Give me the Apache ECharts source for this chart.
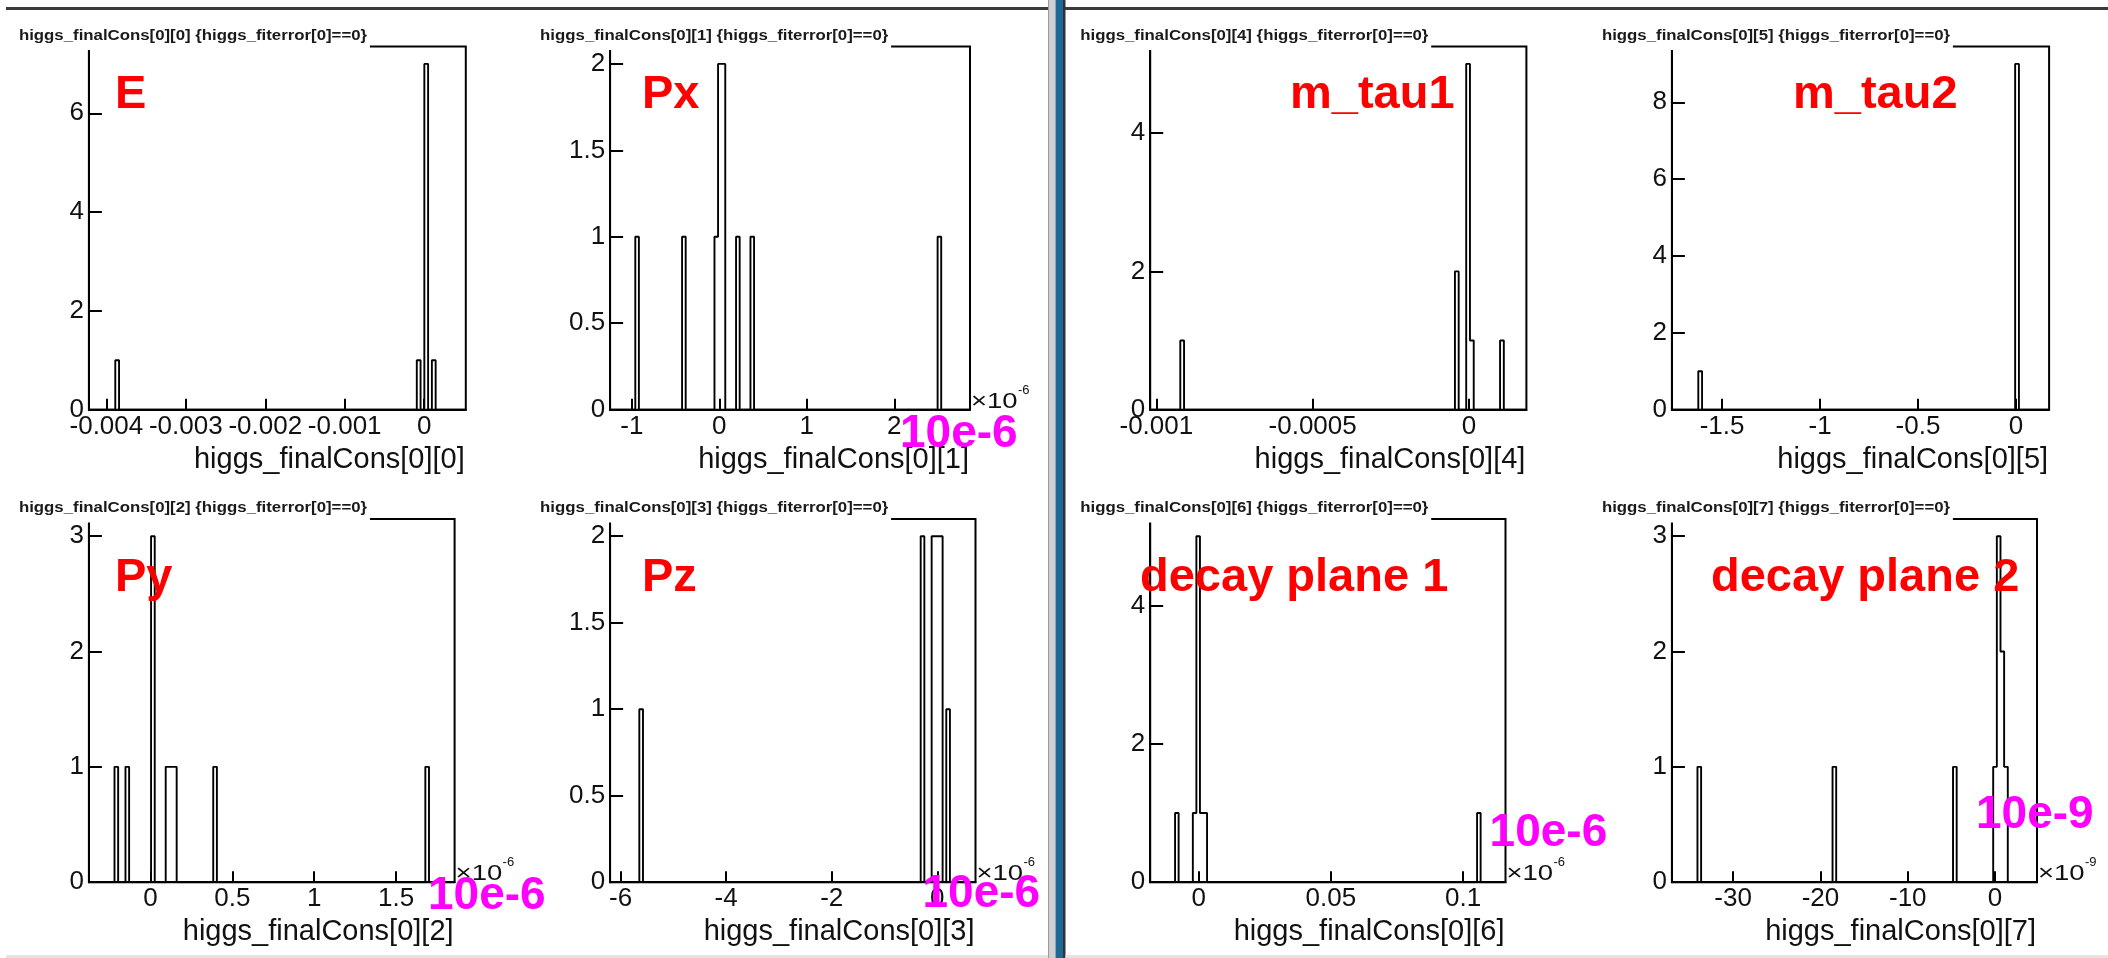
<!DOCTYPE html>
<html><head><meta charset="utf-8">
<script src="https://cdn.jsdelivr.net/npm/echarts@6/dist/echarts.min.js"></script>
<style>html,body{margin:0;padding:0;background:#fff;overflow:hidden}#c{width:2108px;height:958px}</style>
</head><body><div id="c"></div>
<script>
// ---------------- DATA ----------------
const NBINS = 100;
const panelLabels = ['E', 'Px', 'm_tau1', 'm_tau2', 'Py', 'Pz', 'decay plane 1', 'decay plane 2'];
const varNames = ['higgs_finalCons[0][0]', 'higgs_finalCons[0][1]', 'higgs_finalCons[0][4]', 'higgs_finalCons[0][5]',
                  'higgs_finalCons[0][2]', 'higgs_finalCons[0][3]', 'higgs_finalCons[0][6]', 'higgs_finalCons[0][7]'];
const cutText = '{higgs_fiterror[0]==0}';
const axisExponents = [null, '-6', null, null, '-6', '-6', '-6', '-9'];
const scaleNotes = [null, '10e-6', null, null, '10e-6', '10e-6', '10e-6', '10e-9'];

const yMaxes = [7.35, 2.1, 5.25, 9.45, 3.15, 2.1, 5.25, 3.15];
const yTickLabels = [[0, 2, 4, 6], [0, 0.5, 1, 1.5, 2], [0, 2, 4], [0, 2, 4, 6, 8],
                     [0, 1, 2, 3], [0, 0.5, 1, 1.5, 2], [0, 2, 4], [0, 1, 2, 3]];
const xTickLabels = [[-0.004, -0.003, -0.002, -0.001, 0], [-1, 0, 1, 2], [-0.001, -0.0005, 0], [-1.5, -1, -0.5, 0],
                     [0, 0.5, 1, 1.5], [-6, -4, -2, 0], [0, 0.05, 0.1], [-30, -20, -10, 0]];

// E
const xRange_E = [-0.00422, 0.000524];
const binX_E = [-0.0038642, -0.000069, 0.0000259, 0.0001208];
const binN_E = [1, 1, 7, 1];
// Px (x 1e-6)
const xRange_Px = [-1.248, 2.865];
const binX_Px = [-0.9395, -0.4048, -0.0347, 0.0065, 0.0476, 0.2121, 0.3766, 2.5154];
const binN_Px = [1, 1, 1, 2, 2, 1, 1, 1];
// m_tau1
const xRange_mtau1 = [-0.0010196, 0.0001836];
const binX_mtau1 = [-0.000917, -0.000039, -0.0000029, 0.0000091, 0.0001054];
const binN_mtau1 = [1, 2, 5, 1, 1];
// m_tau2
const xRange_mtau2 = [-1.756, 0.169];
const binX_mtau2 = [-1.6116, 0.0054];
const binN_mtau2 = [1, 9];
// Py (x 1e-6)
const xRange_Py = [-0.3755, 1.857];
const binX_Py = [-0.2081, -0.1411, 0.0152, 0.1045, 0.1268, 0.1491, 0.3947, 1.6896];
const binN_Py = [1, 1, 3, 1, 1, 1, 1, 1];
// Pz (x 1e-6)
const xRange_Pz = [-6.199, 0.723];
const binX_Pz = [-5.6106, -0.2807, -0.0730, -0.0038, 0.0654, 0.2039];
const binN_Pz = [1, 2, 2, 2, 2, 1];
// decay plane 1 (x 1e-6)
const xRange_dp1 = [-0.0183, 0.116];
const binX_dp1 = [-0.00823, -0.00151, -0.00017, 0.00117, 0.00252, 0.10593];
const binN_dp1 = [1, 1, 5, 1, 1, 1];
// decay plane 2 (x 1e-9)
const xRange_dp2 = [-37.01, 4.80];
const binX_dp2 = [-33.874, -18.405, -4.607, -0.008, 0.410, 0.828, 1.246];
const binN_dp2 = [1, 1, 1, 1, 3, 2, 1];

// ---------------- LAYOUT ----------------
const frames = [ // left, top, right, bottom
  [88.9, 46.6, 465.8, 409.7], [610.1, 46.6, 970.0, 409.7], [1150.2, 46.6, 1526.4, 409.7], [1671.9, 46.6, 2049.1, 409.7],
  [88.9, 518.9, 454.6, 882.2], [610.1, 518.9, 975.5, 882.2], [1150.2, 518.9, 1505.5, 882.2], [1671.9, 518.9, 2037.0, 882.2]
];
const redPos = [[115, 94.7], [642, 94.7], [1290, 94.7], [1793, 94.7], [115, 578], [642, 578], [1140, 578], [1711, 578]];
const magentaPos = [null, [900, 434.7], null, null, [428, 896], [922.5, 894.5], [1489.6, 833.5], [1976, 815]];

const hists = [
  [xRange_E, binX_E, binN_E], [xRange_Px, binX_Px, binN_Px], [xRange_mtau1, binX_mtau1, binN_mtau1], [xRange_mtau2, binX_mtau2, binN_mtau2],
  [xRange_Py, binX_Py, binN_Py], [xRange_Pz, binX_Pz, binN_Pz], [xRange_dp1, binX_dp1, binN_dp1], [xRange_dp2, binX_dp2, binN_dp2]
];

function outline(range, xs, ns) {
  const lo = range[0], hi = range[1], w = (hi - lo) / NBINS;
  const counts = new Array(NBINS).fill(0);
  xs.forEach((x, k) => { const i = Math.floor((x - lo) / w); if (i >= 0 && i < NBINS) counts[i] += ns[k]; });
  const pts = [[lo, 0]];
  for (let i = 0; i < NBINS; i++) pts.push([lo + i * w, counts[i]], [lo + (i + 1) * w, counts[i]]);
  pts.push([hi, 0]);
  return pts;
}
const fmt = v => String(parseFloat(Number(v).toPrecision(10)));
const FONT = '"Liberation Sans", Arial, Helvetica, sans-serif';

const grids = [], xAxes = [], yAxes = [], series = [], elements = [];
frames.forEach((f, i) => {
  const [L, T, R, B] = f;
  grids.push({ left: L, top: T, width: R - L, height: B - T, show: true, borderColor: '#000', borderWidth: 2,
               backgroundColor: 'rgba(0,0,0,0)', containLabel: false, outerBoundsMode: 'none' });
  xAxes.push({ type: 'value', gridIndex: i, min: hists[i][0][0], max: hists[i][0][1],
    axisLine: { show: true, onZero: false, lineStyle: { color: '#000', width: 2 } },
    axisTick: { show: true, inside: true, length: 11, customValues: xTickLabels[i], lineStyle: { color: '#000', width: 2 } },
    axisLabel: { customValues: xTickLabels[i], fontSize: 26, fontFamily: FONT, color: '#111', margin: 4, formatter: fmt, hideOverlap: false },
    splitLine: { show: false } });
  yAxes.push({ type: 'value', gridIndex: i, min: 0, max: yMaxes[i],
    axisLine: { show: true, onZero: false, lineStyle: { color: '#000', width: 2 } },
    axisTick: { show: true, inside: true, length: 13, customValues: yTickLabels[i], lineStyle: { color: '#000', width: 2 } },
    axisLabel: { customValues: yTickLabels[i], fontSize: 26, fontFamily: FONT, color: '#111', margin: 5, formatter: fmt, hideOverlap: false },
    splitLine: { show: false } });
  series.push({ type: 'line', xAxisIndex: i, yAxisIndex: i, data: outline(hists[i][0], hists[i][1], hists[i][2]),
    showSymbol: false, symbol: 'none', silent: true, animation: false, clip: true, z: 3,
    lineStyle: { color: '#000', width: 1.9 } });

  // title pave
  elements.push({ type: 'rect', z: 100, shape: { x: L - 74, y: T - 24, width: 355, height: 27.5 }, style: { fill: '#fff' } });
  elements.push({ type: 'text', z: 101, x: L - 70, y: T - 10.8, scaleX: 1.2,
    style: { text: varNames[i] + ' ' + cutText, font: 'bold 14px ' + FONT, fill: '#1a1a1a',
             align: 'left', verticalAlign: 'middle', textAlign: 'left', textVerticalAlign: 'middle' } });
  // axis title
  elements.push({ type: 'text', z: 101, x: R - 1, y: B + 50,
    style: { text: varNames[i], font: '29px ' + FONT, fill: '#111',
             align: 'right', verticalAlign: 'middle', textAlign: 'right', textVerticalAlign: 'middle' } });
  // exponent
  if (axisExponents[i]) {
    elements.push({ type: 'text', z: 101, x: R + 1, y: B - 8, scaleX: 1.25,
      style: { text: '×10', font: '22px ' + FONT, fill: '#111', align: 'left', verticalAlign: 'middle', textAlign: 'left', textVerticalAlign: 'middle' } });
    elements.push({ type: 'text', z: 101, x: R + 48, y: B - 19.5,
      style: { text: axisExponents[i], font: '13px ' + FONT, fill: '#111', align: 'left', verticalAlign: 'middle', textAlign: 'left', textVerticalAlign: 'middle' } });
  }
  // red label
  elements.push({ type: 'text', z: 110, x: redPos[i][0], y: redPos[i][1],
    style: { text: panelLabels[i], font: 'bold 47px ' + FONT, fill: '#ff0000',
             align: 'left', verticalAlign: 'middle', textAlign: 'left', textVerticalAlign: 'middle' } });
  if (scaleNotes[i]) {
    elements.push({ type: 'text', z: 110, x: magentaPos[i][0], y: magentaPos[i][1],
      style: { text: scaleNotes[i], font: 'bold 46px ' + FONT, fill: '#ff00ff',
               align: 'left', verticalAlign: 'middle', textAlign: 'left', textVerticalAlign: 'middle' } });
  }
});

// window chrome
elements.push({ type: 'rect', z: 120, shape: { x: 6, y: 7, width: 1042, height: 3 }, style: { fill: '#3a3a3a' } });
elements.push({ type: 'rect', z: 120, shape: { x: 1065, y: 7, width: 1043, height: 3 }, style: { fill: '#3a3a3a' } });
elements.push({ type: 'rect', z: 120, shape: { x: 1048, y: 0, width: 1.5, height: 958 }, style: { fill: '#9a9a9a' } });
elements.push({ type: 'rect', z: 120, shape: { x: 1049.5, y: 0, width: 6, height: 958 }, style: { fill: '#d0d0d0' } });
elements.push({ type: 'rect', z: 120, shape: { x: 1055.5, y: 0, width: 7.5, height: 958 }, style: { fill: '#1e6897' } });
elements.push({ type: 'rect', z: 120, shape: { x: 1063, y: 0, width: 2.5, height: 958 }, style: { fill: '#333' } });
elements.push({ type: 'rect', z: 120, shape: { x: 6, y: 955, width: 1042, height: 3 }, style: { fill: '#e4e4e4' } });
elements.push({ type: 'rect', z: 120, shape: { x: 1065.5, y: 955, width: 1042.5, height: 3 }, style: { fill: '#e4e4e4' } });

const chart = echarts.init(document.getElementById('c'), null, { renderer: 'canvas' });
chart.setOption({
  animation: false,
  backgroundColor: '#fff',
  grid: grids, xAxis: xAxes, yAxis: yAxes, series: series,
  graphic: { elements: elements }
});
</script></body></html>
